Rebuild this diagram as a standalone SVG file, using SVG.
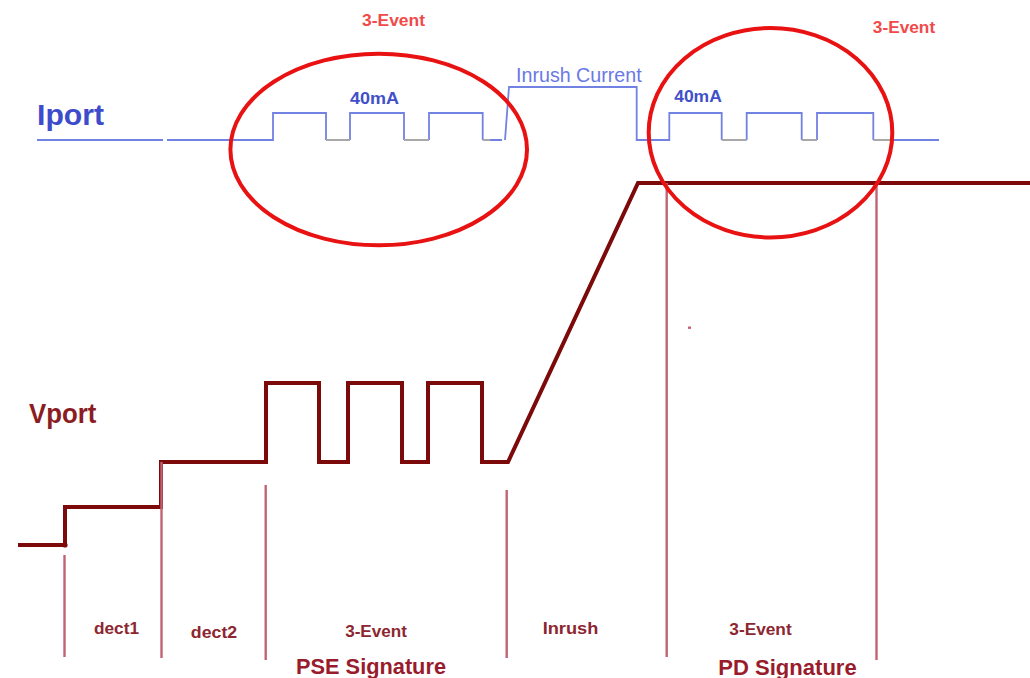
<svg xmlns="http://www.w3.org/2000/svg" width="1030" height="678" viewBox="0 0 1030 678">
<style>
text{font-family:"Liberation Sans",Arial,sans-serif;font-weight:bold}
.cur{fill:none;stroke:#7282e2;stroke-width:1.8}
.gry{fill:none;stroke:#a8a8a8;stroke-width:1.8}
.volt{fill:none;stroke:#7d0a0a;stroke-width:4;stroke-linejoin:miter}
.div{stroke:#c06474;stroke-width:2.4}
.ell{fill:none;stroke:#e81212;stroke-width:4}
.red{fill:#f04a4a;font-size:16px}
.blue{fill:#4250c8;font-size:16px}
.lab{fill:#8c2630;font-size:16px;text-anchor:middle}
.sig{fill:#981c2c;font-size:22px;text-anchor:middle}
</style>
<rect width="1030" height="678" fill="#ffffff"/>
<g id="iport">
<text x="37" y="125" font-size="30" fill="#3c4ccc" textLength="67" lengthAdjust="spacingAndGlyphs">Iport</text>
<path class="cur" d="M37,140 H163 M167,140 H273 V113 H326 V140 M350,140 V113 H404 V140 M429,140 V113 H482.7 V140 M490,140 H502 M505,140 L509,87 H636.7 V140 H669.3 V113 H721.7 V140 M746.7,140 V113 H801.7 V140 M817,140 V113 H873.3 V140 M890,140 H939"/>
<path class="gry" d="M326,140 H350 M404,140 H429 M482.7,140 H490 M721.7,140 H746.7 M801.7,140 H817 M873.3,140 H890"/>
<text x="516" y="81.7" font-size="20" font-weight="normal" fill="#6a78e6" textLength="125.7" lengthAdjust="spacingAndGlyphs" style="font-weight:normal">Inrush Current</text>
<text class="blue" x="374.5" y="104" text-anchor="middle" textLength="49" lengthAdjust="spacingAndGlyphs">40mA</text>
<text class="blue" x="698" y="102.3" text-anchor="middle" textLength="47.7" lengthAdjust="spacingAndGlyphs">40mA</text>
</g>
<g id="vport">
<text x="29" y="423.3" font-size="27" fill="#8a1c22" textLength="67.4" lengthAdjust="spacingAndGlyphs">Vport</text>
<path class="volt" d="M18,545 H65 V507 H161 V462 H266 V383 H319 V462 H348 V383 H402 V462 H428 V383 H482 V462 H508 L638,183 H1030"/>
<circle cx="65" cy="545" r="2.6" fill="#7d0a0a"/>
</g>
<g id="dividers">
<line class="div" x1="64.5" y1="555" x2="64.5" y2="657"/>
<line class="div" x1="161.5" y1="462" x2="161.5" y2="658"/>
<line class="div" x1="265.7" y1="485" x2="265.7" y2="660"/>
<line class="div" x1="506.7" y1="490" x2="506.7" y2="658"/>
<line class="div" x1="666.7" y1="183" x2="666.7" y2="657"/>
<line class="div" x1="876.5" y1="183" x2="876.5" y2="660"/>
<rect x="688" y="326.5" width="3" height="2.4" fill="#c06474"/>
</g>
<g id="events">
<ellipse class="ell" cx="378.7" cy="149.5" rx="148.3" ry="95.8"/>
<ellipse class="ell" cx="770.5" cy="132.7" rx="121.8" ry="104.7"/>
<text class="red" x="393.5" y="26" text-anchor="middle" textLength="63" lengthAdjust="spacingAndGlyphs">3-Event</text>
<text class="red" x="904" y="33.3" text-anchor="middle" textLength="62.3" lengthAdjust="spacingAndGlyphs">3-Event</text>
</g>
<g id="labels">
<text class="lab" x="116.5" y="634" textLength="45" lengthAdjust="spacingAndGlyphs">dect1</text>
<text class="lab" x="214" y="638.3" textLength="46.3" lengthAdjust="spacingAndGlyphs">dect2</text>
<text class="lab" x="376" y="637.3" textLength="61.7" lengthAdjust="spacingAndGlyphs">3-Event</text>
<text class="sig" x="371" y="674.3" textLength="150" lengthAdjust="spacingAndGlyphs">PSE Signature</text>
<text class="lab" x="570.5" y="634" textLength="55.7" lengthAdjust="spacingAndGlyphs">Inrush</text>
<text class="lab" x="760.5" y="635" textLength="62.3" lengthAdjust="spacingAndGlyphs">3-Event</text>
<text class="sig" x="787.5" y="675" textLength="138.4" lengthAdjust="spacingAndGlyphs">PD Signature</text>
</g>
</svg>
